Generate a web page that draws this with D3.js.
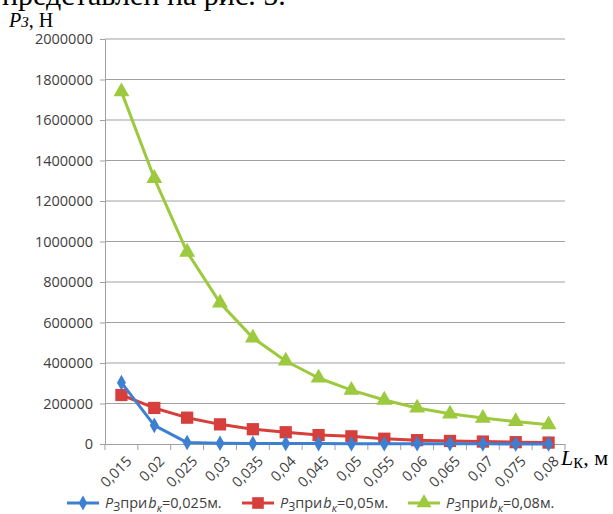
<!DOCTYPE html>
<html>
<head>
<meta charset="utf-8">
<script src="https://cdn.jsdelivr.net/npm/d3@7"></script>
<style>
  html, body { margin: 0; padding: 0; background: #fff; }
  svg { display: block; }
</style>
</head>
<body>
<svg id="chart" width="613" height="514"></svg>
<script>
// Lengths L_K, m (category labels)
const categories = ["0,015","0,02","0,025","0,03","0,035","0,04","0,045","0,05","0,055","0,06","0,065","0,07","0,075","0,08"];
// Force P_З, N for three widths b_к
const seriesB025 = [303000, 92000, 7000, 4000, 3000, 2500, 2000, 1500, 1200, 1000, 800, 700, 600, 500];
const seriesB05  = [242000, 178000, 130000, 97000, 73000, 58000, 44000, 38000, 26000, 19000, 15000, 12000, 9000, 7000];
const seriesB08  = [1740000, 1312000, 948000, 697000, 524000, 410000, 326000, 266000, 217000, 178000, 149000, 128000, 111000, 95000];
const yTicks = [0, 200000, 400000, 600000, 800000, 1000000, 1200000, 1400000, 1600000, 1800000, 2000000];
const legendWidths = ["0,025", "0,05", "0,08"];

const svg = d3.select("#chart");
const plotLeft = 105, plotRight = 565, plotTop = 39, plotBottom = 444;

const x = d3.scaleBand().domain(categories).range([plotLeft, plotRight]);
const y = d3.scaleLinear().domain([0, 2000000]).range([plotBottom, plotTop]);

const sans = "'Open Sans', 'Liberation Sans', sans-serif";
const serif = "'Liberation Serif', 'DejaVu Serif', serif";

// Caption line of the surrounding text, clipped at the top edge
svg.append("text").attr("x", 2).attr("y", 5)
  .attr("font-family", serif).attr("font-size", 30).attr("fill", "#000")
  .text("представлен на рис. 5.");

// Y axis title: P_З, Н
const yt = svg.append("text").attr("x", 9).attr("y", 27)
  .attr("font-family", serif).attr("font-size", 20).attr("fill", "#000");
yt.append("tspan").attr("font-style", "italic").text("P");
yt.append("tspan").attr("font-style", "italic").attr("font-size", 15).text("З");
yt.append("tspan").text(", Н");

// Horizontal gridlines
svg.append("g").selectAll("line").data(yTicks.filter(d => d > 0)).join("line")
  .attr("x1", plotLeft).attr("x2", plotRight)
  .attr("y1", d => y(d)).attr("y2", d => y(d))
  .attr("stroke", "#a0a0a0").attr("stroke-width", 1);

// Y axis
const yAxis = svg.append("g").attr("transform", `translate(${plotLeft},0)`)
  .call(d3.axisLeft(y).tickValues(yTicks).tickSize(5).tickPadding(7).tickFormat(d => String(d)));
yAxis.select(".domain").attr("stroke", "#a0a0a0");
yAxis.selectAll(".tick line").attr("stroke", "#a0a0a0");
yAxis.selectAll(".tick text").attr("font-family", sans).attr("font-size", 14.5).attr("fill", "#404040");

// X axis: ticks between categories
const xg = svg.append("g");
xg.append("line").attr("x1", plotLeft).attr("x2", plotRight).attr("y1", plotBottom + 0.5).attr("y2", plotBottom + 0.5)
  .attr("stroke", "#a0a0a0");
const bounds = d3.range(categories.length + 1).map(i => plotLeft + i * x.bandwidth());
xg.selectAll("line.tk").data(bounds).join("line").attr("class", "tk")
  .attr("x1", d => d).attr("x2", d => d).attr("y1", plotBottom).attr("y2", plotBottom + 6)
  .attr("stroke", "#a0a0a0");
xg.selectAll("text").data(categories).join("text")
  .attr("transform", d => `translate(${x(d) + x.bandwidth() / 2 + 4},${plotBottom + 11}) rotate(-45)`)
  .attr("text-anchor", "end").attr("dy", "0.7em")
  .attr("font-family", sans).attr("font-size", 14.5).attr("fill", "#404040")
  .text(d => d);

// X axis title: L_К, м
const xt = svg.append("text").attr("x", 561).attr("y", 465)
  .attr("font-family", serif).attr("font-size", 22).attr("fill", "#000");
xt.append("tspan").attr("font-style", "italic").text("L");
xt.append("tspan").attr("font-size", 15).attr("dy", 3).text("К");
xt.append("tspan").attr("dy", -3).text(", м");

const series = [
  { values: seriesB025, color: "#3d7fd0", symbol: d3.symbolDiamond, size: 70 },
  { values: seriesB05,  color: "#d63f3b", symbol: d3.symbolSquare,  size: 150 },
  { values: seriesB08,  color: "#9cc93d", symbol: d3.symbolTriangle, size: 110 }
];

const cx = (i) => x(categories[i]) + x.bandwidth() / 2;
const line = d3.line().x((d, i) => cx(i)).y(d => y(d));

// Draw green first, then red, then blue on top
[2, 1, 0].forEach(k => {
  const s = series[k];
  const g = svg.append("g");
  g.append("path").datum(s.values).attr("d", line)
    .attr("fill", "none").attr("stroke", s.color).attr("stroke-width", 3)
    .attr("stroke-linejoin", "round");
  g.selectAll("path.m").data(s.values).join("path").attr("class", "m")
    .attr("transform", (d, i) => `translate(${cx(i)},${y(d)})`)
    .attr("d", d3.symbol().type(s.symbol).size(s.size))
    .attr("fill", s.color);
});

// Legend
const legendX = [67, 242, 408];
const lg = svg.append("g");
series.forEach((s, k) => {
  const lx = legendX[k], ly = 503;
  lg.append("line").attr("x1", lx).attr("x2", lx + 32).attr("y1", ly).attr("y2", ly)
    .attr("stroke", s.color).attr("stroke-width", 3);
  lg.append("path").attr("transform", `translate(${lx + 16},${ly})`)
    .attr("d", d3.symbol().type(s.symbol).size(s.size * 0.9)).attr("fill", s.color);
  const t = lg.append("text").attr("x", lx + 38).attr("y", ly + 5)
    .attr("font-family", sans).attr("font-size", 14.5).attr("fill", "#404040");
  t.append("tspan").attr("font-style", "italic").text("P");
  t.append("tspan").attr("font-size", 12).attr("dy", 3).text("З");
  t.append("tspan").attr("dy", -3).text("при");
  t.append("tspan").attr("font-style", "italic").attr("dx", 1).text("b");
  t.append("tspan").attr("font-size", 11).attr("font-style", "italic").attr("dy", 4).text("к");
  t.append("tspan").attr("dy", -4).text("=" + legendWidths[k] + "м.");
});
</script>
</body>
</html>
